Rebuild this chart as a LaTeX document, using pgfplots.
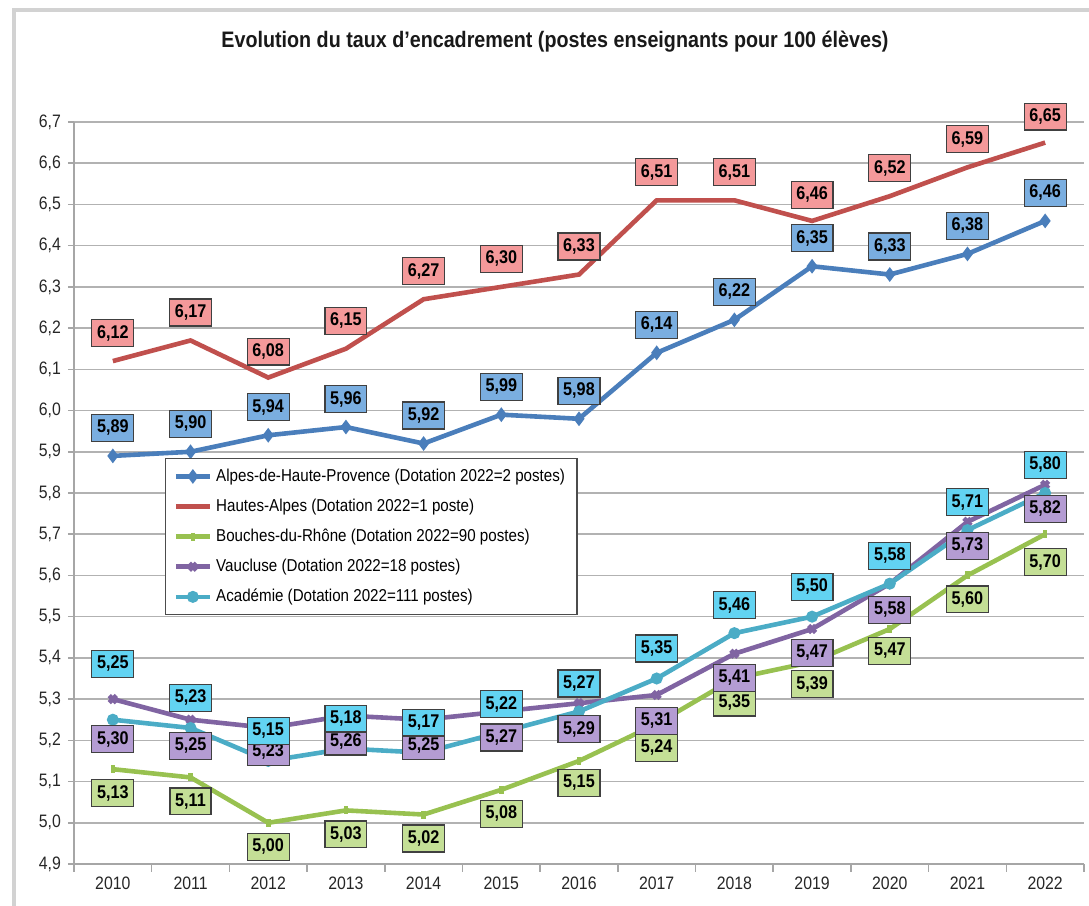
\documentclass[border=0pt]{standalone}
\usepackage{fontspec}
\setmainfont{Liberation Sans}[FakeStretch=0.88]
\usepackage{pgfplots}
\usepackage{pgfplotstable}
\pgfplotsset{compat=1.18}

\definecolor{cblue}{HTML}{4A7EBB}
\definecolor{cred}{HTML}{C0504D}
\definecolor{cgreen}{HTML}{98C150}
\definecolor{cpurple}{HTML}{8064A2}
\definecolor{ccyan}{HTML}{4BACC6}
\definecolor{fblue}{HTML}{7AAEE0}
\definecolor{fred}{HTML}{F4999A}
\definecolor{fgreen}{HTML}{C4DF96}
\definecolor{fpurple}{HTML}{B49CD3}
\definecolor{fcyan}{HTML}{62D3F2}

% x = annee (0 = 2010), y = taux, dy = decalage de l'etiquette (pt)
\pgfplotstableread{
x y dy
0 5.89 14
1 5.90 14
2 5.94 14
3 5.96 14
4 5.92 14
5 5.99 14
6 5.98 14
7 6.14 14
8 6.22 14
9 6.35 14
10 6.33 14
11 6.38 14
12 6.46 14
}\alpes
\pgfplotstableread{
x y dy
0 6.12 14
1 6.17 14
2 6.08 13
3 6.15 14
4 6.27 14
5 6.30 14
6 6.33 14
7 6.51 14
8 6.51 14
9 6.46 13
10 6.52 14
11 6.59 14
12 6.65 13
}\hautes
\pgfplotstableread{
x y dy
0 5.13 -12
1 5.11 -12
2 5.00 -12
3 5.03 -12
4 5.02 -12
5 5.08 -12
6 5.15 -11
7 5.24 -12
8 5.35 -12
9 5.39 -11
10 5.47 -11
11 5.60 -12
12 5.70 -14
}\bouches
\pgfplotstableread{
x y dy
0 5.30 -20
1 5.25 -13
2 5.23 -12
3 5.26 -13
4 5.25 -13
5 5.27 -13
6 5.29 -13
7 5.31 -13
8 5.41 -12
9 5.47 -12
10 5.58 -13
11 5.73 -12
12 5.82 -12
}\vaucluse
\pgfplotstableread{
x y dy
0 5.25 28
1 5.23 15
2 5.15 15
3 5.18 15
4 5.17 15
5 5.22 14
6 5.27 14
7 5.35 15
8 5.46 14
9 5.50 15
10 5.58 14
11 5.71 14
12 5.80 14
}\academie

\pgfplotsset{
  lbl/.style={draw=none, mark=none, forget plot, point meta=y,
    visualization depends on={\thisrow{dy}\as\labdy},
    nodes near coords={\pgfmathprintnumber[fixed,fixed zerofill,precision=2,use comma]{\pgfplotspointmeta}},
    every node near coord/.append style={anchor=center, yshift=\labdy pt,
      fill=#1, draw=black!75, line width=0.6pt, inner xsep=2.6pt, inner ysep=2.8pt,
      font=\bfseries\fontsize{9.2}{10}\selectfont, text=black}},
}

\begin{document}
\begin{tikzpicture}
\begin{axis}[
    scale only axis,
    width=505pt, height=371pt,
    xmin=-0.5, xmax=12.5,
    ymin=4.9, ymax=6.7,
    xtick={0,1,2,3,4,5,6,7,8,9,10,11,12},
    xticklabels={2010,2011,2012,2013,2014,2015,2016,2017,2018,2019,2020,2021,2022},
    major x tick style={draw=none},
    minor xtick={-0.5,0.5,1.5,2.5,3.5,4.5,5.5,6.5,7.5,8.5,9.5,10.5,11.5,12.5},
    ytick={4.9,5.0,5.1,5.2,5.3,5.4,5.5,5.6,5.7,5.8,5.9,6.0,6.1,6.2,6.3,6.4,6.5,6.6,6.7},
    yticklabel style={/pgf/number format/.cd, fixed, fixed zerofill, precision=1, use comma},
    /pgf/number format/assume math mode=true,
    ymajorgrids,
    grid style={color=gray!60, line width=0.8pt},
    axis x line*=bottom, axis y line*=left,
    axis line style={gray!70, line width=0.8pt},
    tick style={gray!70, line width=0.8pt},
    tick align=outside,
    major tick length=3pt, minor tick length=4pt,
    ticklabel style={font=\fontsize{9}{10}\selectfont, text=black!85},
    clip=false,
    legend style={at={(axis description cs:0.090,0.547)}, anchor=north west,
      draw=black!70, line width=0.6pt, fill=white,
      font=\fontsize{8.6}{9.8}\selectfont, cells={anchor=west},
      row sep=3.3pt, inner xsep=4pt, inner ysep=3pt},
]

% courbes
\addplot[cblue, line width=2.3pt, mark=diamond*, mark size=1.8pt] table[x=x,y=y] {\alpes};
\addlegendentry{Alpes-de-Haute-Provence (Dotation 2022=2 postes)}
\addplot[cred, line width=2.3pt] table[x=x,y=y] {\hautes};
\addlegendentry{Hautes-Alpes (Dotation 2022=1 poste)}
\addplot[cgreen, line width=2.3pt, mark=|, mark size=2pt] table[x=x,y=y] {\bouches};
\addlegendentry{Bouches-du-Rhône (Dotation 2022=90 postes)}
\addplot[cpurple, line width=2.3pt, mark=x, mark size=2.5pt] table[x=x,y=y] {\vaucluse};
\addlegendentry{Vaucluse (Dotation 2022=18 postes)}
\addplot[ccyan, line width=2.3pt, mark=*, mark size=1.8pt] table[x=x,y=y] {\academie};
\addlegendentry{Académie (Dotation 2022=111 postes)}

% etiquettes
\addplot[lbl=fblue] table[x=x,y=y] {\alpes};
\addplot[lbl=fred] table[x=x,y=y] {\hautes};
\addplot[lbl=fgreen] table[x=x,y=y] {\bouches};
\addplot[lbl=fpurple] table[x=x,y=y] {\vaucluse};
\addplot[lbl=fcyan] table[x=x,y=y] {\academie};
\end{axis}

\node[font=\bfseries\fontsize{11.2}{13}\selectfont, text=black!90] at (240.5pt,411pt)
  {Evolution du taux d'encadrement (postes enseignants pour 100 élèves)};
\draw[gray!35, line width=2pt] (-30pt,-21pt) -- (-30pt,426.8pt) -- (507.5pt,426.8pt);

\pgfresetboundingbox
\useasboundingbox (-37pt,-21pt) rectangle (507.5pt,432pt);
\end{tikzpicture}
\end{document}
